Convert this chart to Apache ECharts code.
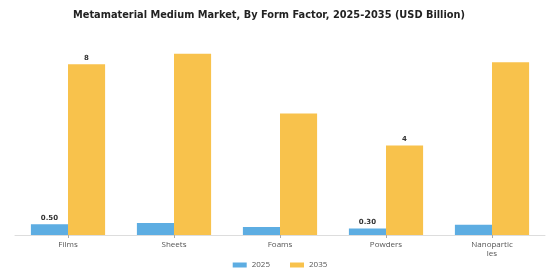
<!DOCTYPE html>
<html>
<head>
<meta charset="utf-8">
<script src="https://cdn.jsdelivr.net/npm/echarts@6/dist/echarts.min.js"></script>
<style>
  html, body { margin: 0; padding: 0; background: #ffffff; }
  #chart { width: 560px; height: 280px; }
</style>
</head>
<body>
<div id="chart"></div>
<script>
// form factors on the x axis
var categories = ['Films', 'Sheets', 'Foams', 'Powders', 'Nanoparticles']
// values in USD billion
var values2025 = [0.50, 0.56, 0.38, 0.30, 0.48]
var values2035 = [8.0, 8.5, 5.7, 4.2, 8.1]
// only these bars carry a value label
var labeled2025 = [0, 3]
var labeled2035 = [0, 3]

var chart = echarts.init(document.getElementById('chart'))

function labelFor (idxList, digits) {
  return {
    show: true,
    position: 'top',
    distance: 3,
    fontSize: 7,
    fontWeight: 'bold',
    color: '#333',
    fontFamily: 'DejaVu Sans',
    formatter: function (p) {
      if (idxList.indexOf(p.dataIndex) < 0) return ''
      return digits ? p.value.toFixed(digits) : String(Math.round(p.value))
    }
  }
}

chart.setOption({
  animation: false,
  title: {
    text: 'Metamaterial Medium Market, By Form Factor, 2025-2035 (USD Billion)',
    left: 68,
    top: 5,
    textStyle: {
      fontFamily: 'DejaVu Sans',
      fontSize: 9.8,
      fontWeight: 'bold',
      color: '#222'
    }
  },
  legend: {
    bottom: 6,
    left: 'center',
    itemWidth: 14,
    itemHeight: 5,
    itemGap: 20,
    icon: 'rect',
    textStyle: { fontSize: 8, color: '#555', fontFamily: 'Open Sans' },
    data: ['2025', '2035']
  },
  grid: {
    left: 15,
    right: 15,
    top: 43,
    bottom: 45
  },
  xAxis: {
    type: 'category',
    data: categories,
    axisLine: { show: true, lineStyle: { color: '#ddd' } },
    axisTick: { show: true, alignWithLabel: true, length: 3, lineStyle: { color: '#aaa' } },
    axisLabel: {
      fontSize: 8,
      color: '#555',
      fontFamily: 'Open Sans',
      margin: 5,
      width: 43,
      overflow: 'breakAll',
      lineHeight: 9
    }
  },
  yAxis: {
    type: 'value',
    min: 0,
    max: 9,
    show: false,
    splitLine: { show: false }
  },
  series: [
    {
      name: '2025',
      type: 'bar',
      data: values2025,
      barGap: '0%',
      barCategoryGap: '30%',
      itemStyle: { color: '#5DADE2' },
      label: labelFor(labeled2025, 2)
    },
    {
      name: '2035',
      type: 'bar',
      data: values2035,
      itemStyle: { color: '#F8C24C' },
      label: labelFor(labeled2035, 0)
    }
  ]
})
</script>
</body>
</html>
